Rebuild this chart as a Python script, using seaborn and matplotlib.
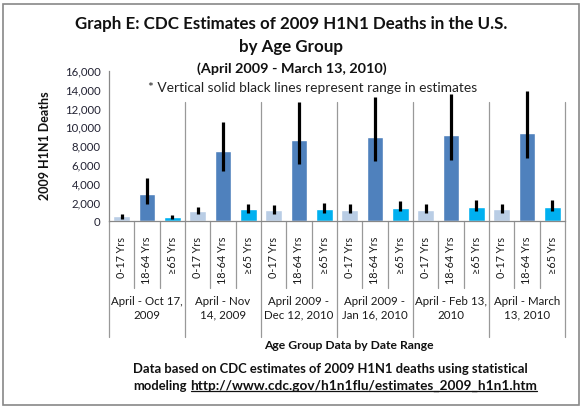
import numpy as np
import pandas as pd
import matplotlib
matplotlib.use("Agg")
import matplotlib.pyplot as plt
from matplotlib.lines import Line2D
from matplotlib.patches import Rectangle
import seaborn as sns

# ---------------- data ----------------
groups = ["April - Oct 17,\n2009", "April - Nov\n14, 2009", "April 2009 -\nDec 12, 2010",
          "April 2009 -\nJan 16, 2010", "April - Feb 13,\n2010", "April - March\n13, 2010"]
ages = ["0-17 Yrs", "18-64 Yrs", "≥65 Yrs"]

est_0_17 = [580, 1100, 1180, 1210, 1230, 1260]
low_0_17 = [280, 820, 820, 880, 880, 900]
high_0_17 = [790, 1530, 1740, 1800, 1800, 1810]

est_18_64 = [2920, 7500, 8650, 8970, 9180, 9390]
low_18_64 = [1850, 5380, 6130, 6450, 6560, 6730]
high_18_64 = [4600, 10560, 12650, 13220, 13500, 13860]

est_65 = [480, 1320, 1310, 1420, 1520, 1520]
low_65 = [250, 920, 890, 1100, 1130, 1130]
high_65 = [680, 1840, 1910, 2130, 2230, 2230]

colors = {"0-17 Yrs": "#B9CDE5", "18-64 Yrs": "#4F81BD", "≥65 Yrs": "#00B0F0"}

# build long table
rows = []
series = {"0-17 Yrs": (est_0_17, low_0_17, high_0_17),
          "18-64 Yrs": (est_18_64, low_18_64, high_18_64),
          "≥65 Yrs": (est_65, low_65, high_65)}
pos = 0
for gi, g in enumerate(groups):
    for a in ages:
        e, lo, hi = series[a]
        rows.append({"slot": str(pos), "group": g, "age": a,
                     "value": e[gi], "low": lo[gi], "high": hi[gi]})
        pos += 1
df = pd.DataFrame(rows)

# ---------------- figure ----------------
sns.set_style("white")
plt.rcParams["font.family"] = ["Lato", "DejaVu Sans"]

W, H = 582, 411
fig = plt.figure(figsize=(W / 100, H / 100), dpi=100)
x0, x1 = 109, 565
y0, ytop = 221.3, 71.0
ax = fig.add_axes([x0 / W, 1 - y0 / H, (x1 - x0) / W, (y0 - ytop) / H])

order = list(df["slot"])
sns.barplot(data=df, x="slot", y="value", hue="age", palette=colors, order=order,
            hue_order=ages, dodge=False, width=0.66, ax=ax, errorbar=None,
            saturation=1, legend=False)

xs = np.arange(len(df))
ax.vlines(xs, df["low"], df["high"], colors="black", linewidth=2.3, zorder=5)

ax.set_ylim(0, 16000)
ax.set_xlim(-0.5, len(df) - 0.5)
ax.set_yticks(range(0, 16001, 2000))
ax.set_yticklabels([f"{v:,}" for v in range(0, 16001, 2000)], fontsize=8.2, color="#222233")
ax.tick_params(axis="y", direction="inout", length=6, width=0.8, color="#888888", pad=3)
ax.set_xticks(xs)
ax.set_xticklabels(list(df["age"]), rotation=90, fontsize=7.8, color="#1a1a1a", va="top")
ax.tick_params(axis="x", length=0, pad=11)

for s in ["top", "right"]:
    ax.spines[s].set_visible(False)
for s in ["left", "bottom"]:
    ax.spines[s].set_color("#888888")
    ax.spines[s].set_linewidth(0.9)

ax.set_xlabel("")
ax.set_ylabel("2009 H1N1 Deaths", fontsize=9, fontweight="bold", color="#111111", labelpad=10)

# category/group separators
lc = "#999999"
trans = ax.get_xaxis_transform()
for k in range(len(df) + 1):
    xb = k - 0.5
    if k % 3 == 0:
        ax.add_line(Line2D([xb, xb], [0, -0.77], transform=trans, color=lc, lw=0.9, clip_on=False))
        if k > 0:
            ax.add_line(Line2D([xb, xb], [0, 0.794], transform=trans, color=lc, lw=0.9, clip_on=False))
    else:
        ax.add_line(Line2D([xb, xb], [0, -0.444], transform=trans, color=lc, lw=0.9, clip_on=False))

for gi, g in enumerate(groups):
    ax.text(gi * 3 + 1, -0.58, g, transform=trans, ha="center", va="center",
            fontsize=8.3, color="#1a1a1a", linespacing=1.25)

# titles and notes
fig.text(291 / W, 1 - 24 / H, "Graph E: CDC Estimates of 2009 H1N1 Deaths in the U.S.",
         ha="center", va="center", fontsize=12.2, fontweight="bold", color="#111111")
fig.text(291 / W, 1 - 47 / H, "by Age Group", ha="center", va="center",
         fontsize=12.2, fontweight="bold", color="#111111")
fig.text(292 / W, 1 - 69 / H, "(April 2009 - March 13, 2010)", ha="center", va="center",
         fontsize=10.4, fontweight="bold", color="#111111")
fig.text(313 / W, 1 - 88 / H, "* Vertical solid black lines represent range in estimates",
         ha="center", va="center", fontsize=9.9, color="#222222")
fig.text(349 / W, 1 - 345 / H, "Age Group Data by Date Range", ha="center", va="center",
         fontsize=8.7, fontweight="bold", color="#111111")
fig.text(133 / W, 1 - 369 / H, "Data based on CDC estimates of 2009 H1N1 deaths using statistical",
         ha="left", va="center", fontsize=9.4, fontweight="bold", color="#111111")
t1 = fig.text(133 / W, 1 - 386 / H, "modeling", ha="left", va="center",
              fontsize=9.4, fontweight="bold", color="#111111")
fig.canvas.draw()
bt = t1.get_window_extent()
url = fig.text((bt.x1 + 4) / W, 1 - 386 / H, "http://www.cdc.gov/h1n1flu/estimates_2009_h1n1.htm",
               ha="left", va="center", fontsize=9.8, fontweight="bold", color="#111111")

fig.canvas.draw()
bb = url.get_window_extent()
fig.add_artist(Line2D([bb.x0 / W, bb.x1 / W], [(bb.y0 + 1) / H, (bb.y0 + 1) / H],
                      transform=fig.transFigure, color="#111111", lw=0.9))

# outer border
fig.add_artist(Rectangle((3 / W, 6 / H), 576 / W, 401 / H, transform=fig.transFigure,
                         fill=False, edgecolor="#888888", lw=1.2))

fig.savefig("out.png", dpi=100)
